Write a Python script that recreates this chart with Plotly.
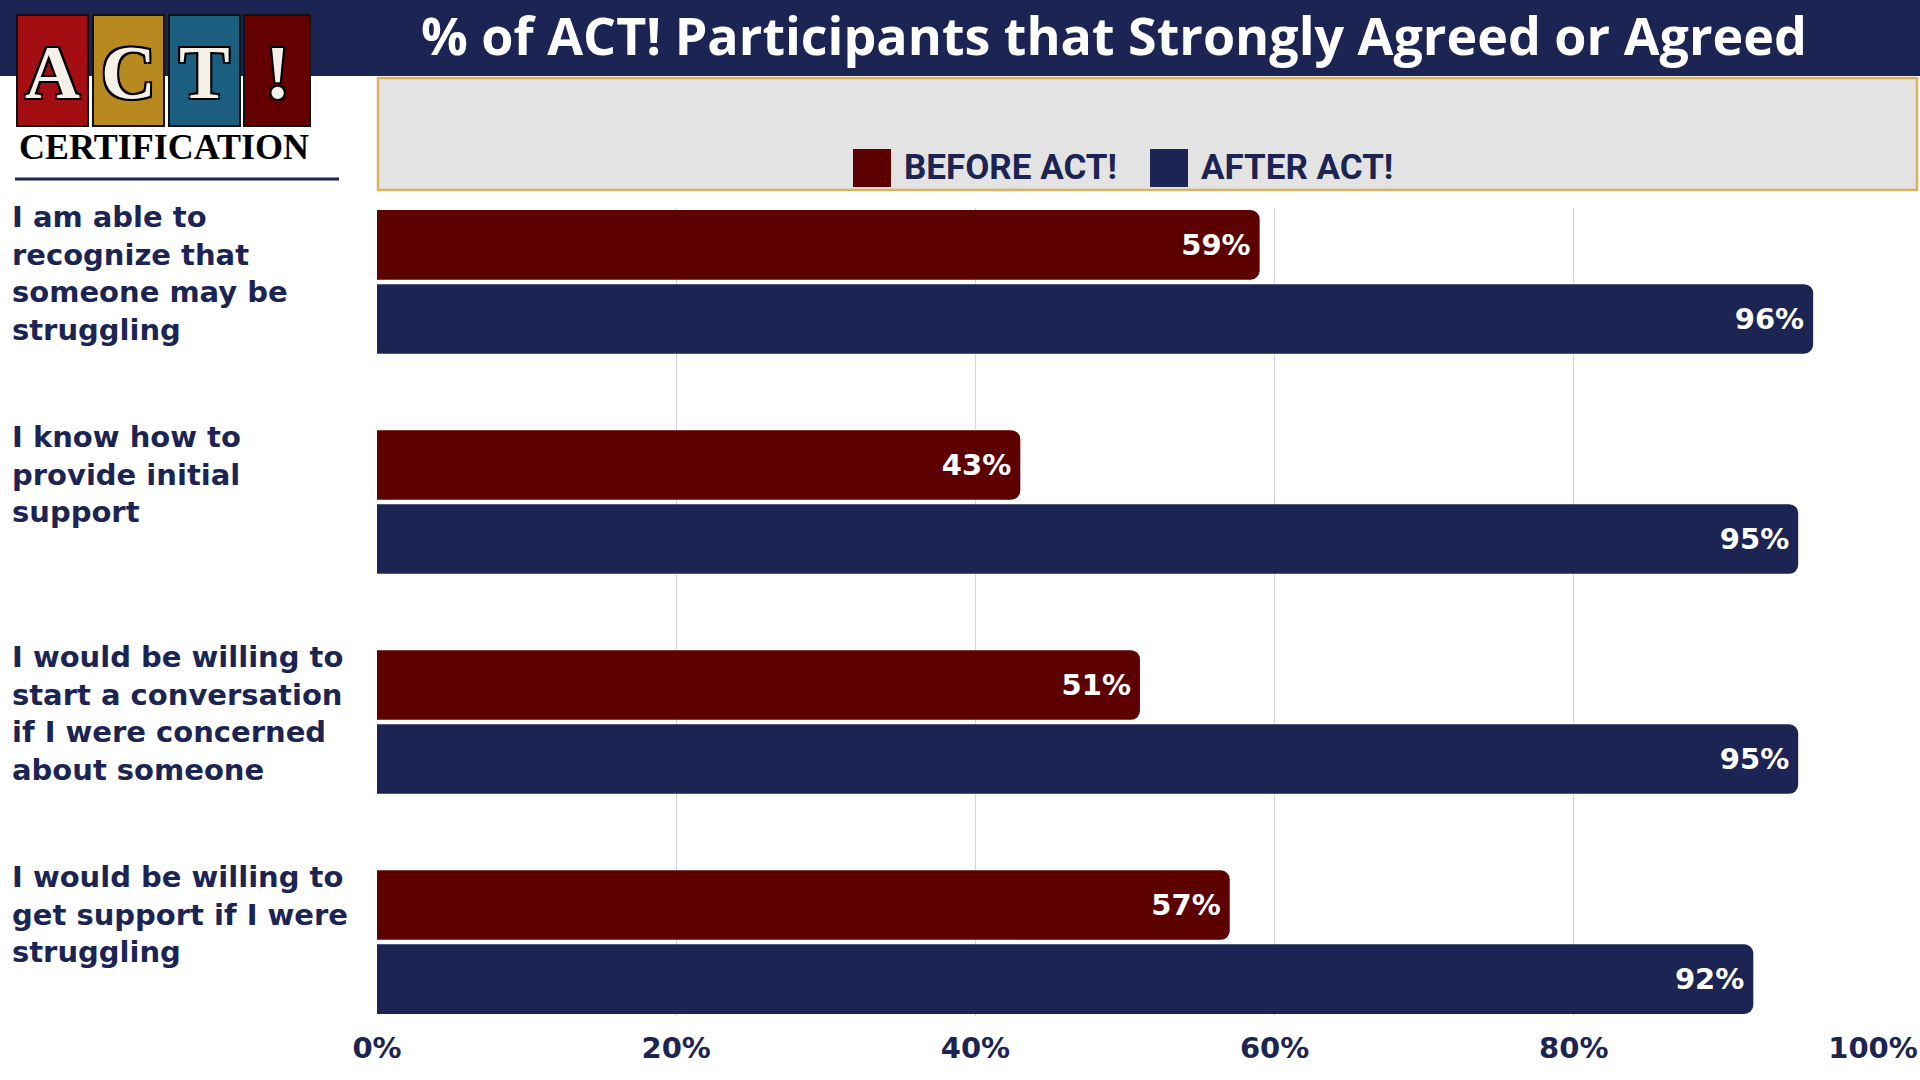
import plotly.graph_objects as go

# ---------------- data ----------------
categories = [
    "I am able to<br>recognize that<br>someone may be<br>struggling",
    "I know how to<br>provide initial<br>support",
    "I would be willing to<br>start a conversation<br>if I were concerned<br>about someone",
    "I would be willing to<br>get support if I were<br>struggling",
]
series_names = ["BEFORE ACT!", "AFTER ACT!"]
before_values = [59, 43, 51, 57]
after_values = [96, 95, 95, 92]
x_ticks = [0, 20, 40, 60, 80, 100]
x_tick_labels = ["0%", "20%", "40%", "60%", "80%", "100%"]
title_text = "% of ACT! Participants that Strongly Agreed or Agreed"
logo_letters = ["A", "C", "T", "!"]
logo_sub = "CERTIFICATION"

# ---------------- style ----------------
NAVY = "#1b2452"
MAROON = "#5c0000"
LOGO_COLORS = ["#a30e13", "#b8891f", "#1b5e80", "#640000"]
W, H = 1920, 1080
L, R, T, B = 377, 1873, 208, 1016
BOLD_FONT = "DejaVu Sans"


def pxx(x):
    return (x - L) / (R - L)


def pxy(y):
    return (B - y) / (B - T)


cat_keys = list(range(len(categories)))
half = 0.336

fig = go.Figure()
for name, vals, col in [(series_names[0], before_values, MAROON),
                        (series_names[1], after_values, NAVY)]:
    fig.add_trace(go.Bar(
        y=cat_keys, x=vals, orientation="h", name=name,
        marker=dict(color=col, cornerradius=9, line=dict(width=0)),
        texttemplate="%{x}%", textposition="inside", insidetextanchor="end",
        textfont=dict(family=BOLD_FONT, size=29, color="white", weight="bold"),
        constraintext="none", showlegend=False, hoverinfo="skip",
    ))

shapes = []
annotations = []

# header band
shapes.append(dict(type="rect", xref="paper", yref="paper", x0=pxx(0), x1=pxx(W),
                   y0=pxy(76), y1=pxy(0), fillcolor=NAVY, line=dict(width=0), layer="below"))
# legend box
shapes.append(dict(type="rect", xref="paper", yref="paper", x0=pxx(378), x1=pxx(1917),
                   y0=pxy(190), y1=pxy(78), fillcolor="#e3e3e3",
                   line=dict(color="#d8b25e", width=2.5), layer="below"))
# underline under logo
shapes.append(dict(type="line", xref="paper", yref="paper", x0=pxx(15), x1=pxx(339),
                   y0=pxy(179), y1=pxy(179), line=dict(color=NAVY, width=3)))

# logo squares
sq = [(17, 88), (93, 164), (169, 240), (244, 310)]
for (x0, x1), c, letter in zip(sq, LOGO_COLORS, logo_letters):
    shapes.append(dict(type="rect", xref="paper", yref="paper", x0=pxx(x0), x1=pxx(x1),
                       y0=pxy(126), y1=pxy(15), fillcolor=c,
                       line=dict(color="#111111", width=2)))
    annotations.append(dict(text=letter, xref="paper", yref="paper",
                            x=pxx((x0 + x1) / 2), y=pxy(72), xanchor="center", yanchor="middle",
                            showarrow=False,
                            font=dict(family="Liberation Serif", size=76, color="#f6f1e8", weight="bold",
                                      shadow="2px 2px 0 #000, -2px -2px 0 #000, 2px -2px 0 #000, -2px 2px 0 #000")))
annotations.append(dict(text=logo_sub, xref="paper", yref="paper", x=pxx(17), y=pxy(147),
                        xanchor="left", yanchor="middle", showarrow=False,
                        font=dict(family="Liberation Serif", size=36, color="#000000", weight="bold")))

# title
annotations.append(dict(text=title_text, xref="paper", yref="paper", x=pxx(1114), y=pxy(34),
                        xanchor="center", yanchor="middle", showarrow=False,
                        font=dict(family="Open Sans", size=52, color="white", weight="bold")))

# manual legend
leg_items = [(853, 891, 902, MAROON, series_names[0]), (1150, 1188, 1199, NAVY, series_names[1])]
for s0, s1, tx, col, name in leg_items:
    shapes.append(dict(type="rect", xref="paper", yref="paper", x0=pxx(s0), x1=pxx(s1),
                       y0=pxy(187), y1=pxy(149), fillcolor=col, line=dict(width=0)))
    annotations.append(dict(text=name, xref="paper", yref="paper", x=pxx(tx), y=pxy(168),
                            xanchor="left", yanchor="middle", showarrow=False,
                            font=dict(family="Liberation Sans Narrow, Roboto", size=35, color=NAVY,
                                      weight="bold")))

# category labels (top aligned with each group)
for k, lab in zip(cat_keys, categories):
    annotations.append(dict(text=lab, xref="paper", yref="y", x=pxx(10), y=k - half,
                            xanchor="left", yanchor="top", align="left", showarrow=False,
                            yshift=10,
                            font=dict(family=BOLD_FONT, size=29, color=NAVY, weight="bold")))

fig.update_layout(
    width=W, height=H, autosize=False,
    margin=dict(l=L, r=W - R, t=T, b=H - B, pad=0, autoexpand=False),
    paper_bgcolor="white", plot_bgcolor="white",
    barmode="group", bargap=0.327, bargroupgap=0.06,
    shapes=shapes, annotations=annotations,
    showlegend=False,
    xaxis=dict(range=[0, 100], tickvals=x_ticks, ticktext=x_tick_labels, automargin=False,
               showgrid=True, gridcolor="#d4d4e2", gridwidth=1.2, zeroline=False,
               showline=False, ticks="", ticklabelstandoff=12,
               tickfont=dict(family=BOLD_FONT, size=29, color=NAVY, weight="bold"), fixedrange=True),
    yaxis=dict(range=[len(categories) - 1 + half, -half], showticklabels=False, automargin=False,
               showgrid=False, zeroline=False, showline=False, ticks=""),
)

fig.write_html(
    "out.html",
    config={"displayModeBar": False, "responsive": False},
    post_script="document.body.style.margin='0px';document.body.style.overflow='hidden';"
                "document.documentElement.style.overflow='hidden';",
)
